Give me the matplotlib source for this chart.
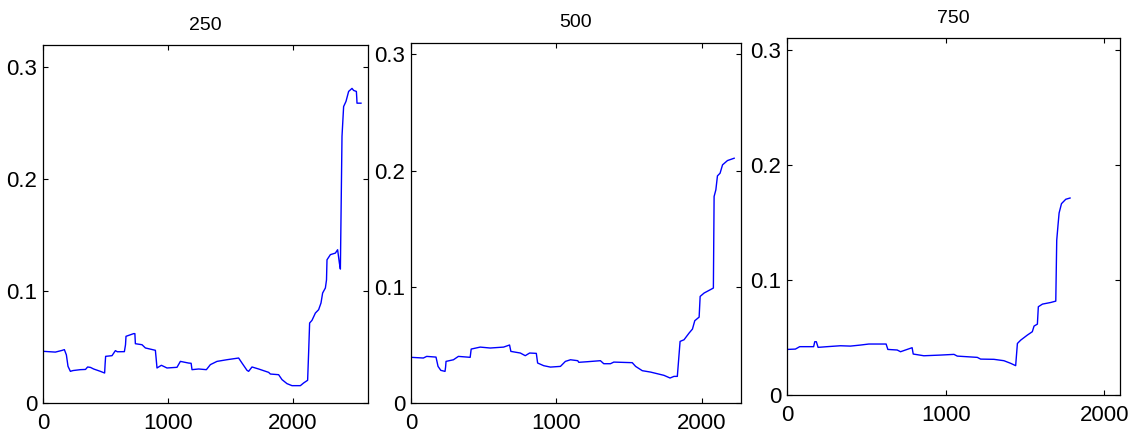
import matplotlib
matplotlib.use("Agg")
import matplotlib.pyplot as plt

plt.rcParams['font.family'] = ['Liberation Sans', 'DejaVu Sans']

titles = ["250", "500", "750"]

x250 = [0, 99, 152, 171, 187, 200, 219, 240, 299, 340, 357, 380, 405, 459, 493, 497, 501, 552, 579, 595, 651, 660, 664, 725, 735, 739, 792, 819, 899, 905, 912, 947, 992, 1072, 1099, 1165, 1185, 1192, 1245, 1307, 1339, 1392, 1472, 1565, 1592, 1632, 1645, 1672, 1725, 1805, 1819, 1885, 1912, 1952, 1992, 2059, 2085, 2117, 2125, 2133, 2152, 2179, 2205, 2224, 2237, 2259, 2268, 2272, 2299, 2339, 2357, 2371, 2379, 2392, 2405, 2424, 2445, 2472, 2485, 2507, 2510, 2512, 2544]
y250 = [0.0462, 0.0455, 0.047, 0.0477, 0.043, 0.0328, 0.0283, 0.029, 0.0298, 0.0300, 0.0322, 0.0318, 0.0304, 0.0283, 0.0268, 0.035, 0.0417, 0.0423, 0.0468, 0.0458, 0.0459, 0.052, 0.0596, 0.062, 0.062, 0.053, 0.0521, 0.0492, 0.0471, 0.040, 0.0313, 0.0337, 0.0313, 0.0319, 0.0372, 0.0357, 0.0355, 0.0298, 0.0304, 0.0298, 0.0343, 0.0372, 0.0387, 0.0402, 0.0357, 0.0292, 0.0283, 0.0322, 0.0304, 0.0274, 0.0259, 0.0253, 0.0209, 0.0173, 0.0155, 0.0155, 0.0179, 0.0203, 0.045, 0.0715, 0.0739, 0.0804, 0.0834, 0.0894, 0.0983, 0.1028, 0.110, 0.128, 0.1326, 0.134, 0.137, 0.1251, 0.1197, 0.2383, 0.265, 0.2696, 0.2785, 0.2812, 0.2794, 0.2785, 0.273, 0.268, 0.268]

x500 = [0, 85, 108, 172, 186, 205, 234, 238, 241, 292, 326, 407, 414, 476, 545, 637, 678, 687, 752, 786, 816, 862, 871, 913, 959, 1028, 1062, 1097, 1147, 1154, 1211, 1303, 1326, 1372, 1395, 1522, 1545, 1591, 1648, 1740, 1782, 1809, 1832, 1851, 1878, 1913, 1936, 1952, 1982, 1989, 2016, 2080, 2085, 2097, 2108, 2126, 2143, 2177, 2223]
y500 = [0.0393, 0.0387, 0.0401, 0.0395, 0.0315, 0.0281, 0.0272, 0.031, 0.0358, 0.0372, 0.0401, 0.0393, 0.0464, 0.0481, 0.0473, 0.0481, 0.0499, 0.0444, 0.043, 0.0407, 0.043, 0.0427, 0.0344, 0.0321, 0.0309, 0.0315, 0.0358, 0.0372, 0.0364, 0.035, 0.0355, 0.0364, 0.0338, 0.0338, 0.0352, 0.0347, 0.0315, 0.0278, 0.0266, 0.0238, 0.0215, 0.0229, 0.0229, 0.053, 0.0544, 0.0602, 0.0636, 0.0708, 0.0739, 0.0917, 0.0946, 0.0989, 0.1777, 0.1834, 0.1954, 0.1977, 0.2049, 0.2086, 0.2106]

x750 = [0, 53, 80, 168, 175, 185, 196, 253, 337, 400, 463, 516, 625, 636, 695, 716, 747, 789, 796, 863, 968, 1053, 1074, 1200, 1221, 1305, 1368, 1411, 1442, 1453, 1474, 1516, 1547, 1558, 1579, 1585, 1611, 1663, 1695, 1701, 1709, 1716, 1731, 1758, 1785]
y750 = [0.0396, 0.0399, 0.042, 0.042, 0.0463, 0.0463, 0.0414, 0.042, 0.0428, 0.0425, 0.0434, 0.0443, 0.0443, 0.0396, 0.0391, 0.0376, 0.0391, 0.0411, 0.0356, 0.0341, 0.0347, 0.0353, 0.0338, 0.0327, 0.0312, 0.031, 0.0298, 0.0275, 0.0255, 0.0448, 0.0477, 0.0521, 0.055, 0.0599, 0.0616, 0.0767, 0.079, 0.0804, 0.0816, 0.1345, 0.1475, 0.1582, 0.1663, 0.1701, 0.1712]

xs = [x250, x500, x750]
ys = [y250, y500, y750]
xlims = [2600, 2270, 2100]
ylims = [0.32, 0.31, 0.31]
positions = [
    [43 / 1129, 27 / 430, 325 / 1129, 358 / 430],
    [411 / 1129, 27 / 430, 330 / 1129, 360.3 / 430],
    [787 / 1129, 35 / 430, 333 / 1129, 356.7 / 430],
]

fig = plt.figure(figsize=(11.29, 4.30), dpi=100)
for i in range(3):
    ax = fig.add_axes(positions[i])
    ax.plot(xs[i], ys[i], color='#0000ff', linewidth=1.0)
    ax.set_xlim(0, xlims[i])
    ax.set_ylim(0, ylims[i])
    ax.set_xticks([0, 1000, 2000])
    ax.set_yticks([0, 0.1, 0.2, 0.3])
    ax.set_yticklabels(["0", "0.1", "0.2", "0.3"])
    ax.tick_params(direction='in', top=True, right=True, length=3.5, width=0.8,
                   labelsize=16, colors='black')
    ax.tick_params(axis='x', pad=7)
    ax.tick_params(axis='y', pad=4)
    for s in ax.spines.values():
        s.set_linewidth(0.9)
    ax.set_title(titles[i], fontsize=14, pad=11)

fig.savefig("out.png", dpi=100, facecolor='white')
